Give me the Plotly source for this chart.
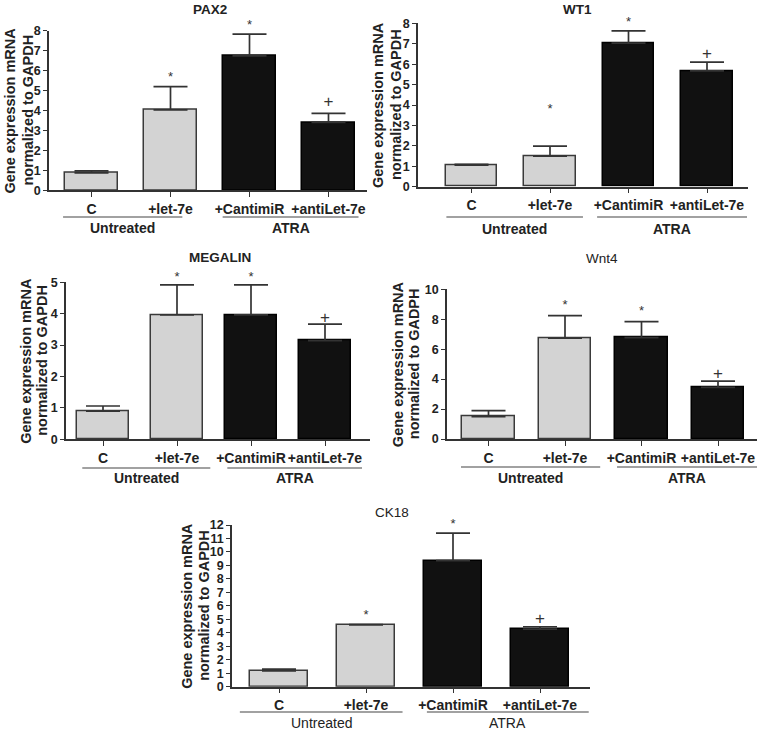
import plotly.graph_objects as go

W, H = 758, 731

# ---------------- data ----------------
categories = ["C", "+let-7e", "+CantimiR", "+antiLet-7e"]
groups = ["Untreated", "ATRA"]

pax2_mean = [0.87, 4.03, 6.74, 3.40]
pax2_upper = [0.97, 5.20, 7.83, 3.86]
pax2_sig = ["", "*", "*", "+"]
pax2_sig_y = [None, 5.64, 8.25, 4.38]

wt1_mean = [1.06, 1.50, 7.03, 5.67]
wt1_upper = [1.10, 1.99, 7.63, 6.10]
wt1_sig = ["", "*", "*", "+"]
wt1_sig_y = [None, 3.76, 8.05, 6.44]

megalin_mean = [0.90, 3.96, 3.96, 3.14]
megalin_upper = [1.06, 4.92, 4.92, 3.67]
megalin_sig = ["", "*", "*", "+"]
megalin_sig_y = [None, 5.16, 5.16, 3.85]

wnt4_mean = [1.49, 6.73, 6.77, 3.45]
wnt4_upper = [1.89, 8.24, 7.84, 3.87]
wnt4_sig = ["", "*", "*", "+"]
wnt4_sig_y = [None, 8.93, 8.47, 4.27]

ck18_mean = [1.17, 4.58, 9.36, 4.28]
ck18_upper = [1.30, 4.60, 11.39, 4.45]
ck18_sig = ["", "*", "*", "+"]
ck18_sig_y = [None, 5.26, 12.0, 4.96]

# ---------------- layout config (page pixels) ----------------
panels = [
    dict(name="PAX2", mean=pax2_mean, upper=pax2_upper, sig=pax2_sig, sig_y=pax2_sig_y,
         left=49, right=367, y0=190.3, ytop=30.7, ymax=8, dtick=1, c0=91.5, unit=79,
         bw=0.67, title_xy=(210, 9), title_bold=True, ytitle_x=(9, 27),
         ytitle=("Gene expression mRNA", "normalized to GAPDH"),
         gline_y=217, glabel_y=228, gspans=[(-0.36, 1.15), (1.66, 3.38)], gbold=True),
    dict(name="WT1", mean=wt1_mean, upper=wt1_upper, sig=wt1_sig, sig_y=wt1_sig_y,
         left=418, right=748, y0=186.7, ytop=23.3, ymax=8, dtick=1, c0=471.5, unit=78.5,
         bw=0.66, title_xy=(577, 9), title_bold=True, ytitle_x=(378, 396),
         ytitle=("Gene expression mRNA", "normalized to GAPDH"),
         gline_y=217, glabel_y=229, gspans=[(-0.32, 1.42), (1.6, 3.51)], gbold=True),
    dict(name="MEGALIN", mean=megalin_mean, upper=megalin_upper, sig=megalin_sig, sig_y=megalin_sig_y,
         left=66, right=370, y0=439.3, ytop=282.3, ymax=5, dtick=1, c0=103, unit=74,
         bw=0.69, title_xy=(220, 257), title_bold=True, ytitle_x=(26, 42),
         ytitle=("Gene expression mRNA", "normalized to GAPDH"),
         gline_y=468, glabel_y=478, gspans=[(-0.28, 1.45), (1.68, 3.5)], gbold=True),
    dict(name="Wnt4", mean=wnt4_mean, upper=wnt4_upper, sig=wnt4_sig, sig_y=wnt4_sig_y,
         left=447, right=757, y0=439, ytop=289.3, ymax=10, dtick=2, c0=488.5, unit=76.5,
         bw=0.69, title_xy=(602, 258), title_bold=False, ytitle_x=(398, 414),
         ytitle=("Gene expression mRNA", "normalized to GADPH"),
         gline_y=467, glabel_y=478, gspans=[(-0.36, 1.46), (1.68, 3.52)], gbold=True),
    dict(name="CK18", mean=ck18_mean, upper=ck18_upper, sig=ck18_sig, sig_y=ck18_sig_y,
         left=232, right=590, y0=686.7, ytop=525, ymax=12, dtick=1, c0=279, unit=87,
         bw=0.67, title_xy=(392, 512), title_bold=False, ytitle_x=(187, 204),
         ytitle=("Gene expression mRNA", "normalized to GAPDH"),
         gline_y=712, glabel_y=723, gspans=[(-0.45, 1.42), (1.7, 3.56)], gbold=False),
]

FONT = "Liberation Sans, Arial, sans-serif"
TXT = "#222222"
LIGHT = "#d3d3d3"
DARK = "#111111"
EDGE = "#3a3a3a"
HEADROOM = 30  # px of extra (invisible) axis above each panel for the significance marks


def fx(px):
    return px / W


def fy(py):
    return 1 - py / H


fig = go.Figure()
annotations = []
shapes = []
layout_axes = {}
n = len(panels)

for i, p in enumerate(panels):
    k = "" if i == 0 else str(i + 1)
    kh = str(i + 1 + n)          # hidden y axis with the same scale but more headroom
    xa, ya, yh = "x" + k, "y" + k, "y" + kh
    xs = list(range(len(categories)))
    colors = [LIGHT, LIGHT, DARK, DARK]
    lines = [EDGE, EDGE, "#000000", "#000000"]
    fig.add_trace(go.Bar(
        x=xs, y=p["mean"], width=p["bw"], xaxis=xa, yaxis=ya,
        marker=dict(color=colors, line=dict(color=lines, width=1.5)),
        error_y=dict(type="data", symmetric=False,
                     array=[u - m for u, m in zip(p["upper"], p["mean"])],
                     arrayminus=[0] * len(xs), color="#333333", thickness=1.7, width=17),
        showlegend=False, hoverinfo="skip", cliponaxis=False,
    ))
    # significance markers (on the hidden, taller axis with the same scale)
    sx = [x for x, s in zip(xs, p["sig"]) if s]
    sy = [y for y, s in zip(p["sig_y"], p["sig"]) if s]
    st = [s for s in p["sig"] if s]
    fig.add_trace(go.Scatter(
        x=sx, y=sy, text=st, mode="text", xaxis=xa, yaxis=yh, cliponaxis=False,
        textfont=dict(family=FONT, size=[13 if t == "*" else 17 for t in st], color="#333333"),
        showlegend=False, hoverinfo="skip",
    ))
    xr = [(p["left"] - p["c0"]) / p["unit"], (p["right"] - p["c0"]) / p["unit"]]
    layout_axes["xaxis" + k] = dict(
        domain=[fx(p["left"]), fx(p["right"])], anchor=ya, range=xr,
        tickmode="array", tickvals=xs, ticktext=categories, tickangle=0,
        ticks="outside", ticklen=5, tickwidth=1.3, tickcolor="#333333",
        showline=True, linecolor="#333333", linewidth=1.5, showgrid=False, zeroline=False,
        tickfont=dict(family=FONT, size=14, color=TXT, weight="bold"), fixedrange=True,
        automargin=False,
    )
    layout_axes["yaxis" + k] = dict(
        domain=[fy(p["y0"]), fy(p["ytop"])], anchor=xa, range=[0, p["ymax"]],
        tickmode="linear", tick0=0, dtick=p["dtick"],
        ticks="outside", ticklen=4, tickwidth=1.3, tickcolor="#333333",
        showline=True, linecolor="#333333", linewidth=1.5, showgrid=False, zeroline=False,
        tickfont=dict(family=FONT, size=12.5, color=TXT, weight="bold"), fixedrange=True,
        automargin=False,
    )
    top_px = max(p["ytop"] - HEADROOM, 0)
    ext = p["ymax"] * (p["y0"] - top_px) / (p["y0"] - p["ytop"])
    layout_axes["yaxis" + kh] = dict(
        domain=[fy(p["y0"]), fy(top_px)], anchor=xa, range=[0, ext],
        visible=False, showgrid=False, zeroline=False, fixedrange=True, automargin=False,
    )
    # title
    tx, ty = p["title_xy"]
    annotations.append(dict(
        text=p["name"], x=fx(tx), y=fy(ty), xref="paper", yref="paper", showarrow=False,
        xanchor="center", yanchor="middle",
        font=dict(family=FONT, size=13.5, color=TXT, weight="bold" if p["title_bold"] else "normal"),
    ))
    # y title (two lines)
    for line_txt, lx in zip(p["ytitle"], p["ytitle_x"]):
        annotations.append(dict(
            text=line_txt, x=fx(lx), y=fy((p["y0"] + p["ytop"]) / 2),
            xref="paper", yref="paper", showarrow=False, textangle=-90,
            xanchor="center", yanchor="middle",
            font=dict(family=FONT, size=14.5, color=TXT, weight="bold"),
        ))
    # group lines + labels
    for g, (a, b) in zip(groups, p["gspans"]):
        shapes.append(dict(type="line", xref=xa, yref="paper", x0=a, x1=b,
                           y0=fy(p["gline_y"]), y1=fy(p["gline_y"]),
                           line=dict(color="#444444", width=1.2)))
        annotations.append(dict(
            text=g, x=(a + b) / 2, y=fy(p["glabel_y"]), xref=xa, yref="paper",
            showarrow=False, xanchor="center", yanchor="middle",
            font=dict(family=FONT, size=14, color=TXT, weight="bold" if p["gbold"] else "normal"),
        ))

fig.update_layout(
    width=W, height=H, margin=dict(l=0, r=0, t=0, b=0, autoexpand=False),
    paper_bgcolor="white", plot_bgcolor="rgba(0,0,0,0)",
    bargap=0, annotations=annotations, shapes=shapes,
    font=dict(family=FONT, color=TXT),
    **layout_axes,
)

# remove the browser's default 8px body margin so the figure fills the window exactly
fig.write_html("out.html", config={"displayModeBar": False},
               post_script="document.body.style.margin='0';")
